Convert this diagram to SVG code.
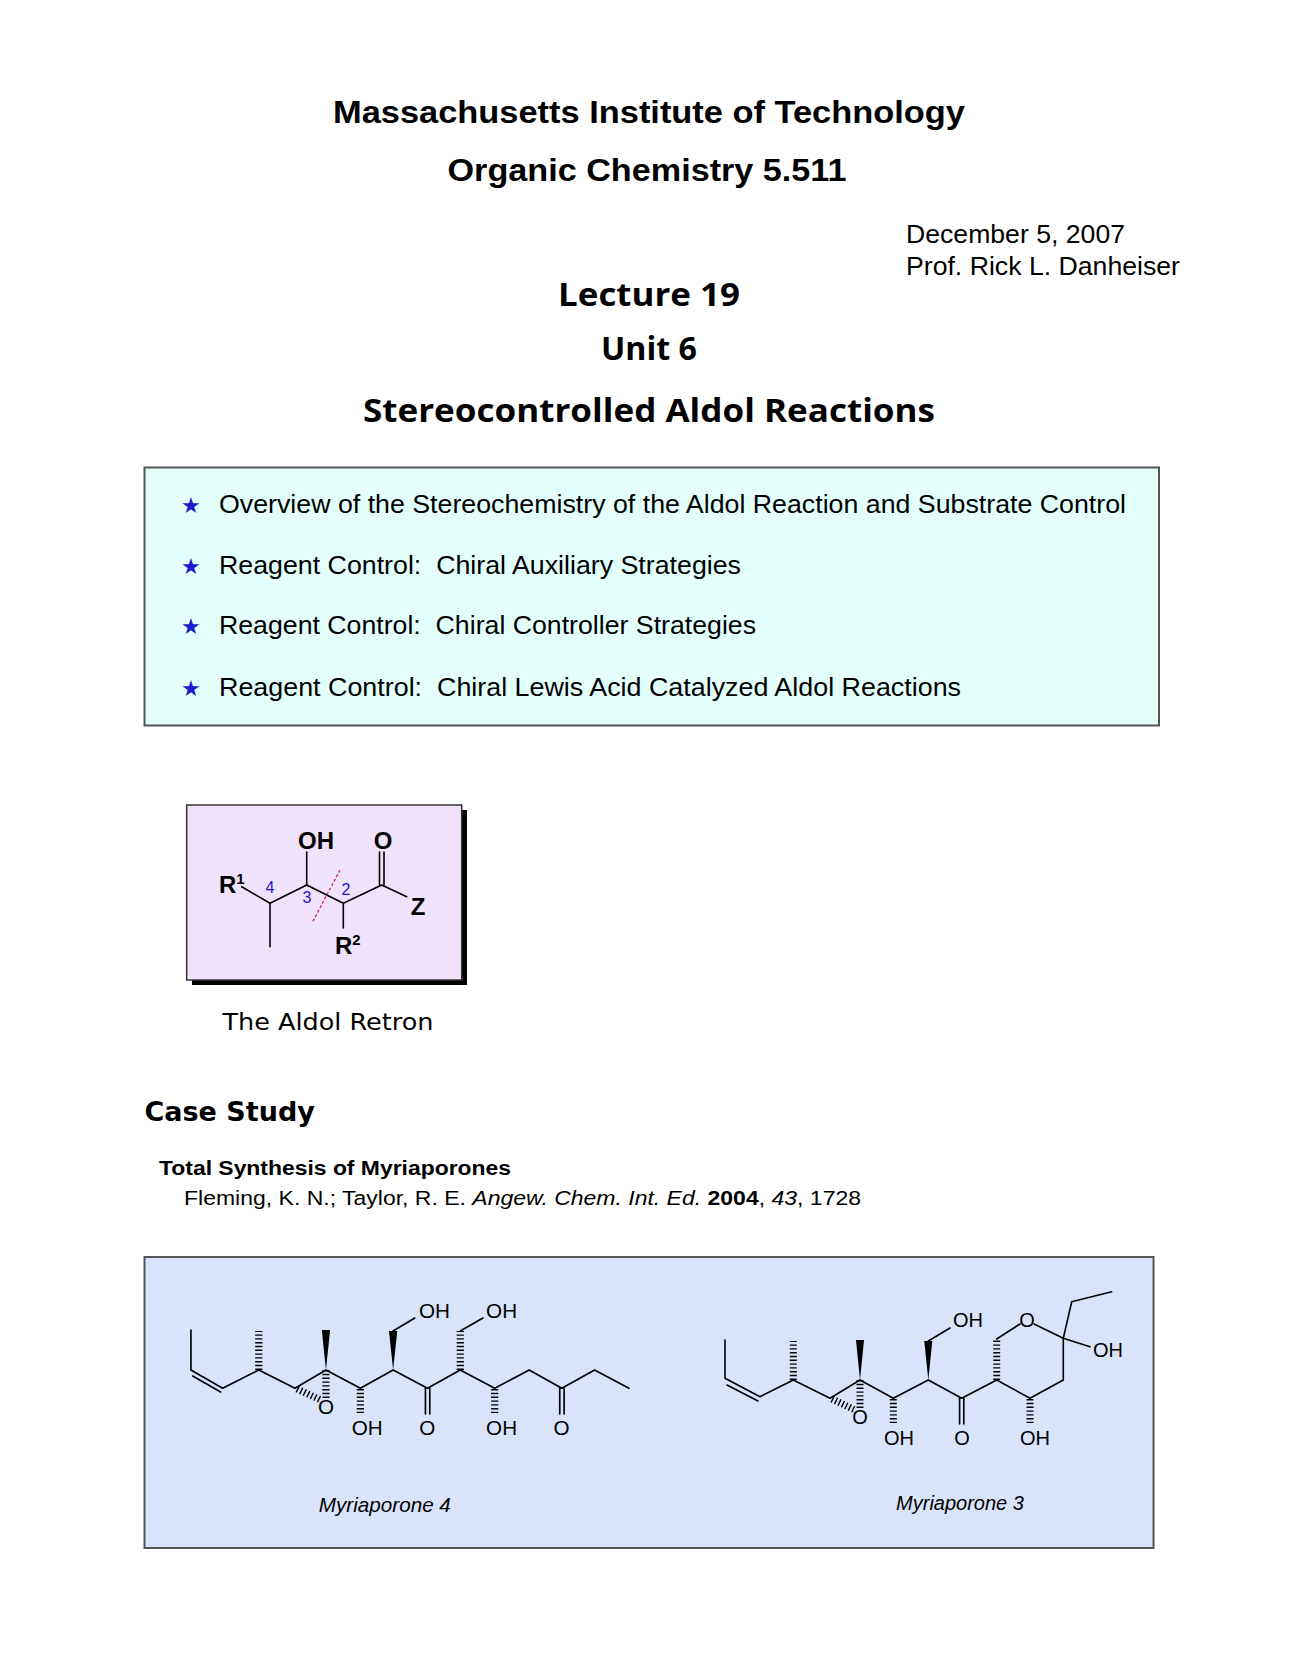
<svg xmlns="http://www.w3.org/2000/svg" width="1298" height="1680" viewBox="0 0 1298 1680">
<style>
.t{font-family:"Liberation Sans",Arial,sans-serif;fill:#000}
.h{font-family:"Open Sans","DejaVu Sans",sans-serif;font-weight:bold;fill:#000}
.b{stroke:#000;stroke-width:1.6;fill:none;stroke-linecap:round;stroke-linejoin:round}
.hs{stroke:#000;stroke-width:7;stroke-dasharray:1.4 2.4;fill:none}
.w{fill:#000;stroke:none}
.lab{font-family:"Liberation Sans",Arial,sans-serif;font-size:20px;fill:#000;text-anchor:middle}
.num{font-family:"Liberation Sans",Arial,sans-serif;font-size:16px;fill:#1a1acc;text-anchor:middle}
.star{fill:#1a1acc;font-family:"DejaVu Sans",sans-serif;font-size:22px}
</style>
<rect width="1298" height="1680" fill="#fff"/>
<g id="title">
<text class="t" x="649" y="123" font-size="32" font-weight="bold" text-anchor="middle" textLength="632" lengthAdjust="spacingAndGlyphs">Massachusetts Institute of Technology</text>
<text class="t" x="647" y="181" font-size="32" font-weight="bold" text-anchor="middle" textLength="399" lengthAdjust="spacingAndGlyphs">Organic Chemistry 5.511</text>
<text class="t" x="906" y="243" font-size="25" textLength="219" lengthAdjust="spacingAndGlyphs">December 5, 2007</text>
<text class="t" x="906" y="275" font-size="25" textLength="274" lengthAdjust="spacingAndGlyphs">Prof. Rick L. Danheiser</text>
<text class="h" x="649" y="306" font-size="33" text-anchor="middle" textLength="182" lengthAdjust="spacingAndGlyphs">Lecture 19</text>
<text class="h" x="649" y="360" font-size="33" text-anchor="middle" textLength="96" lengthAdjust="spacingAndGlyphs">Unit 6</text>
<text class="h" x="649" y="422" font-size="33" text-anchor="middle" textLength="572" lengthAdjust="spacingAndGlyphs">Stereocontrolled Aldol Reactions</text>
</g>
<g id="outline">
<rect x="144.5" y="467.5" width="1014.5" height="258" fill="#e2fffb" stroke="#555" stroke-width="2"/>
<text class="star" x="181" y="513">★</text>
<text class="star" x="181" y="574">★</text>
<text class="star" x="181" y="634">★</text>
<text class="star" x="181" y="696">★</text>
<text class="t" x="219" y="513" font-size="25" textLength="907" lengthAdjust="spacingAndGlyphs">Overview of the Stereochemistry of the Aldol Reaction and Substrate Control</text>
<text class="t" x="219" y="574" font-size="25" xml:space="preserve" textLength="522" lengthAdjust="spacingAndGlyphs">Reagent Control:  Chiral Auxiliary Strategies</text>
<text class="t" x="219" y="634" font-size="25" xml:space="preserve" textLength="537" lengthAdjust="spacingAndGlyphs">Reagent Control:  Chiral Controller Strategies</text>
<text class="t" x="219" y="696" font-size="25" xml:space="preserve" textLength="742" lengthAdjust="spacingAndGlyphs">Reagent Control:  Chiral Lewis Acid Catalyzed Aldol Reactions</text>
</g>
<g id="retron">
<rect x="192" y="810" width="275" height="175" fill="#000"/>
<rect x="186.7" y="805" width="275" height="175" fill="#f0e2fa" stroke="#333" stroke-width="1.5"/>
<polyline class="b" points="241.7,886.7 270,903.3 306.7,885 343.3,903.3 381.7,885 406.7,896.7"/>
<line class="b" x1="270" y1="903.3" x2="270" y2="946.7"/>
<line class="b" x1="306.7" y1="885" x2="306.7" y2="852"/>
<line class="b" x1="343.3" y1="903.3" x2="343.3" y2="928"/>
<line class="b" x1="379.5" y1="885" x2="379.5" y2="852"/>
<line class="b" x1="384" y1="885" x2="384" y2="852"/>
<line x1="340" y1="870" x2="312.7" y2="921.7" stroke="#d0304a" stroke-width="1.3" stroke-dasharray="3 2"/>
<text class="t" x="219" y="893" font-size="24" font-weight="bold">R<tspan font-size="15" dy="-9">1</tspan></text>
<text class="t" x="316" y="849" font-size="24" font-weight="bold" text-anchor="middle">OH</text>
<text class="t" x="383" y="849" font-size="24" font-weight="bold" text-anchor="middle">O</text>
<text class="t" x="418" y="915" font-size="24" font-weight="bold" text-anchor="middle">Z</text>
<text class="t" x="335" y="954" font-size="24" font-weight="bold">R<tspan font-size="15" dy="-9">2</tspan></text>
<text class="num" x="270" y="893">4</text>
<text class="num" x="307" y="903">3</text>
<text class="num" x="346" y="895">2</text>
<text x="328" y="1030" font-family="DejaVu Sans,sans-serif" font-size="23" text-anchor="middle" fill="#000" textLength="211" lengthAdjust="spacingAndGlyphs">The Aldol Retron</text>
</g>
<g id="case">
<text x="144.5" y="1121" font-family="DejaVu Sans,sans-serif" font-weight="bold" font-size="27" fill="#000">Case Study</text>
<text class="t" x="159" y="1175" font-size="20" font-weight="bold" textLength="352" lengthAdjust="spacingAndGlyphs">Total Synthesis of Myriaporones</text>
<text class="t" x="184" y="1205" font-size="20" textLength="677" lengthAdjust="spacingAndGlyphs">Fleming, K. N.; Taylor, R. E. <tspan font-style="italic">Angew. Chem. Int. Ed.</tspan> <tspan font-weight="bold">2004</tspan>, <tspan font-style="italic">43</tspan>, 1728</text>
</g>
<g id="box2">
<rect x="144.5" y="1257" width="1009" height="291" fill="#d9e4fb" stroke="#555" stroke-width="2"/>
</g>
<g id="myriaporone4" transform="translate(140 0) scale(1.0331 1) translate(-140 0)">
<polyline class="b" points="189.3,1330 189.3,1370 220,1388.3 255,1370 290,1388.3 320,1370 353.3,1388.3 385,1370 418.3,1388.3 450,1370 483.3,1388.3 516.7,1370 548.3,1388.3 580,1370 613.3,1388.3"/>
<line class="b" x1="191" y1="1376" x2="218" y2="1392"/>
<line class="hs" x1="255" y1="1370" x2="255" y2="1331"/>
<polygon class="w" points="320,1370 316,1330 324,1330"/>
<line class="hs" x1="292" y1="1389" x2="315" y2="1400"/>
<line class="hs" x1="320" y1="1370" x2="320" y2="1398"/>
<line class="hs" x1="353.3" y1="1389" x2="353.3" y2="1413"/>
<polygon class="w" points="385,1370 381,1331 389,1331"/>
<line class="b" x1="385" y1="1331" x2="406" y2="1318"/>
<line class="b" x1="416.3" y1="1388.3" x2="416.3" y2="1414"/>
<line class="b" x1="420.5" y1="1388.3" x2="420.5" y2="1414"/>
<line class="hs" x1="450" y1="1370" x2="450" y2="1331"/>
<line class="b" x1="450" y1="1331" x2="472" y2="1318"/>
<line class="hs" x1="483.3" y1="1389" x2="483.3" y2="1413"/>
<line class="b" x1="546.3" y1="1388.3" x2="546.3" y2="1414"/>
<line class="b" x1="550.5" y1="1388.3" x2="550.5" y2="1414"/>
<text class="lab" x="320" y="1414">O</text>
<text class="lab" x="360" y="1435">OH</text>
<text class="lab" x="418" y="1435">O</text>
<text class="lab" x="490" y="1435">OH</text>
<text class="lab" x="548" y="1435">O</text>
<text class="lab" x="425" y="1318">OH</text>
<text class="lab" x="490" y="1318">OH</text>
<text class="t" x="377" y="1512" font-size="20" font-style="italic" text-anchor="middle">Myriaporone 4</text>
</g>
<g id="myriaporone3">
<polyline class="b" points="725,1340 725,1378.3 760,1396.7 793.3,1380 830,1398.3 860,1380 893.3,1398.3 928.3,1380 961.7,1398.3 996.7,1380 1030,1398.3 1063.3,1380 1063.3,1338.3"/>
<line class="b" x1="727" y1="1385" x2="758" y2="1401"/>
<line class="hs" x1="793.3" y1="1380" x2="793.3" y2="1341"/>
<polygon class="w" points="860,1380 856,1340 864,1340"/>
<line class="hs" x1="832" y1="1399" x2="855" y2="1410"/>
<line class="hs" x1="860" y1="1380" x2="860" y2="1408"/>
<line class="hs" x1="893.3" y1="1399" x2="893.3" y2="1423"/>
<polygon class="w" points="928.3,1380 924.3,1341 932.3,1341"/>
<line class="b" x1="928.3" y1="1341" x2="950" y2="1328"/>
<line class="b" x1="959.6" y1="1398.3" x2="959.6" y2="1424"/>
<line class="b" x1="963.8" y1="1398.3" x2="963.8" y2="1424"/>
<line class="hs" x1="996.7" y1="1380" x2="996.7" y2="1339"/>
<line class="b" x1="996.7" y1="1339" x2="1020" y2="1324"/>
<line class="b" x1="1034" y1="1324" x2="1063.3" y2="1338.3"/>
<polyline class="b" points="1063.3,1338.3 1071.7,1301.7 1111.7,1291.7"/>
<line class="b" x1="1063.3" y1="1338.3" x2="1090" y2="1346.7"/>
<line class="hs" x1="1030" y1="1399" x2="1030" y2="1423"/>
<text class="lab" x="860" y="1424">O</text>
<text class="lab" x="899" y="1445">OH</text>
<text class="lab" x="962" y="1445">O</text>
<text class="lab" x="1035" y="1445">OH</text>
<text class="lab" x="968" y="1327">OH</text>
<text class="lab" x="1027" y="1327">O</text>
<text class="lab" x="1108" y="1357">OH</text>
<text class="t" x="960" y="1510" font-size="20" font-style="italic" text-anchor="middle">Myriaporone 3</text>
</g>
</svg>
